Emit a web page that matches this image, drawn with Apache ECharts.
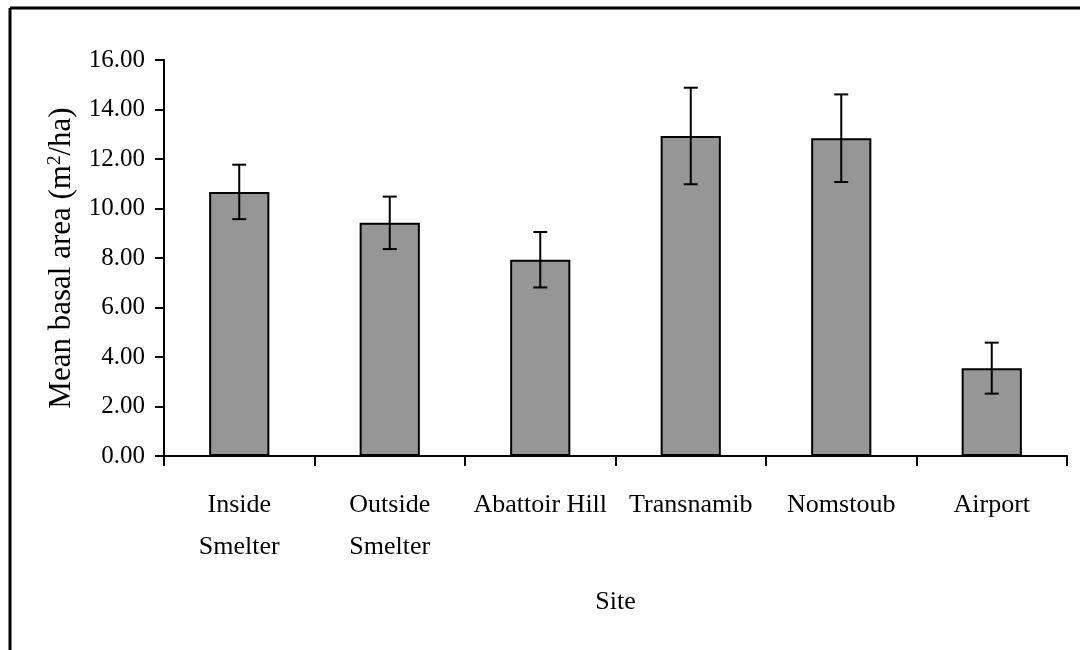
<!DOCTYPE html>
<html>
<head>
<meta charset="utf-8">
<script src="https://cdn.jsdelivr.net/npm/echarts@6/dist/echarts.min.js"></script>
<style>
html,body{margin:0;padding:0;background:#fff;}
#chart{width:1080px;height:650px;}
</style>
</head>
<body>
<div id="chart"></div>
<script>
const categories = ['Inside\nSmelter', 'Outside\nSmelter', 'Abattoir Hill', 'Transnamib', 'Nomstoub', 'Airport'];
const means = [10.67, 9.42, 7.93, 12.93, 12.84, 3.55];
const errors = [1.10, 1.06, 1.12, 1.95, 1.77, 1.03];
const yTicks = { min: 0, max: 16, interval: 2 };

const FONT = '"Liberation Serif", "Times New Roman", serif';
const chart = echarts.init(document.getElementById('chart'), null, { renderer: 'canvas' });

const errData = means.map((m, i) => [i, m - errors[i], m + errors[i]]);

chart.setOption({
  animation: false,
  backgroundColor: '#fff',
  textStyle: { fontFamily: FONT, color: '#000' },
  graphic: [
    { type: 'line', shape: { x1: 10, y1: 8, x2: 1080, y2: 8 }, style: { stroke: '#000', lineWidth: 3 } },
    { type: 'line', shape: { x1: 10, y1: 8, x2: 10, y2: 650 }, style: { stroke: '#000', lineWidth: 3 } }
  ],
  grid: { left: 164, right: 13, top: 60, bottom: 194 },
  xAxis: {
    type: 'category',
    data: categories,
    name: 'Site',
    nameLocation: 'middle',
    nameGap: 133,
    nameTextStyle: { fontFamily: FONT, fontSize: 26, color: '#000' },
    axisLine: { lineStyle: { color: '#000', width: 2 } },
    axisTick: { show: true, length: 10, lineStyle: { color: '#000', width: 2 } },
    axisLabel: { fontFamily: FONT, fontSize: 26, color: '#000', margin: 28, lineHeight: 42, interval: 0 },
    splitLine: { show: false }
  },
  yAxis: {
    type: 'value',
    min: yTicks.min, max: yTicks.max, interval: yTicks.interval,
    name: 'Mean basal area (m{sup|2}/ha)',
    nameLocation: 'middle',
    nameRotate: 90,
    nameGap: 87,
    nameTextStyle: {
      fontFamily: FONT, fontSize: 31, color: '#000',
      rich: { sup: { fontFamily: FONT, fontSize: 19, color: '#000', verticalAlign: 'top', lineHeight: 31 } }
    },
    axisLine: { show: true, lineStyle: { color: '#000', width: 2 } },
    axisTick: { show: true, length: 9, lineStyle: { color: '#000', width: 2 } },
    axisLabel: { fontFamily: FONT, fontSize: 25, color: '#000', margin: 19, formatter: v => v.toFixed(2) },
    splitLine: { show: false }
  },
  series: [
    {
      type: 'bar',
      data: means,
      barWidth: '40%',
      itemStyle: { color: '#969696', borderColor: '#000', borderWidth: 2 },
      z: 2
    },
    {
      type: 'custom',
      data: errData,
      z: 3,
      renderItem: function (params, api) {
        const x = api.value(0);
        const lo = api.coord([x, api.value(1)]);
        const hi = api.coord([x, api.value(2)]);
        const hw = 7;
        const style = { stroke: '#000', lineWidth: 2 };
        return {
          type: 'group',
          children: [
            { type: 'line', shape: { x1: lo[0], y1: lo[1], x2: hi[0], y2: hi[1] }, style: style },
            { type: 'line', shape: { x1: hi[0] - hw, y1: hi[1], x2: hi[0] + hw, y2: hi[1] }, style: style },
            { type: 'line', shape: { x1: lo[0] - hw, y1: lo[1], x2: lo[0] + hw, y2: lo[1] }, style: style }
          ]
        };
      }
    }
  ]
});
</script>
</body>
</html>
